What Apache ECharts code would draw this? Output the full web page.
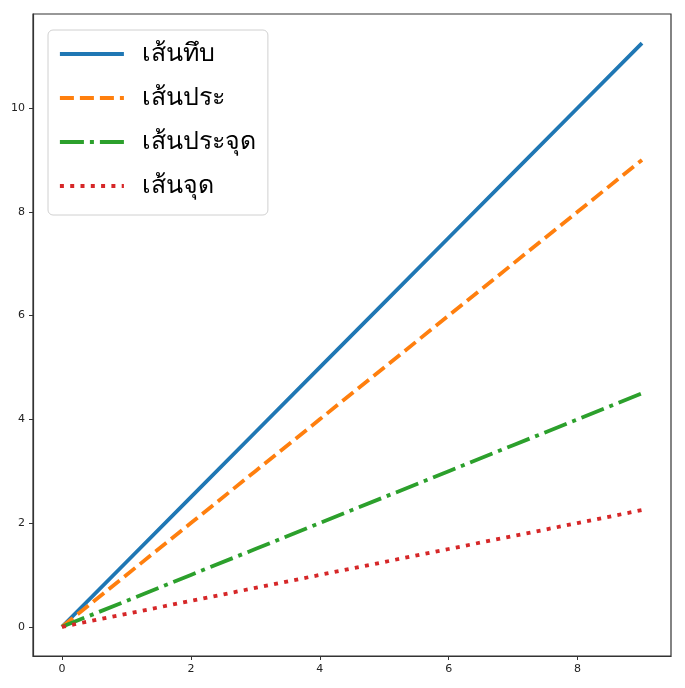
<!DOCTYPE html>
<html>
<head>
<meta charset="utf-8">
<script src="https://cdn.jsdelivr.net/npm/echarts@6/dist/echarts.min.js"></script>
<style>html,body{margin:0;padding:0;background:#fff}#c{width:685px;height:688px}</style>
</head>
<body>
<div id="c"></div>
<script>
const xs = [0, 1, 2, 3, 4, 5, 6, 7, 8, 9];
const solidVals = [0, 1.25, 2.5, 3.75, 5, 6.25, 7.5, 8.75, 10, 11.25];
const dashedVals = [0, 1, 2, 3, 4, 5, 6, 7, 8, 9];
const dashDotVals = [0, 0.5, 1, 1.5, 2, 2.5, 3, 3.5, 4, 4.5];
const dottedVals = [0, 0.25, 0.5, 0.75, 1, 1.25, 1.5, 1.75, 2, 2.25];
const names = ['เส้นทึบ', 'เส้นประ', 'เส้นประจุด', 'เส้นจุด'];
const xTicks = [0, 2, 4, 6, 8];
const yTicks = [0, 2, 4, 6, 8, 10];

const colors = ['#1f77b4', '#ff7f0e', '#2ca02c', '#d62728'];
const lw = 3.8;
const dashTypes = ['solid', [14, 6], [24, 6, 4, 6], [4, 6.3]];
const valsList = [solidVals, dashedVals, dashDotVals, dottedVals];

const chart = echarts.init(document.getElementById('c'), null, {renderer: 'canvas'});
const axisCommon = {
  axisLine: {show: true, onZero: false, lineStyle: {color: '#333', width: 1.2}},
  splitLine: {show: false},
  axisLabel: {color: '#222', fontSize: 11, fontFamily: 'DejaVu Sans'},
  axisTick: {show: true, length: 4, lineStyle: {color: '#333'}}
};
chart.setOption({
  animation: false,
  grid: {left: 33, right: 14, top: 14, bottom: 32, show: true, borderColor: '#333', borderWidth: 1.2, containLabel: false},
  xAxis: Object.assign({}, axisCommon, {
    type: 'value', min: -0.45, max: 9.45,
    axisLabel: Object.assign({}, axisCommon.axisLabel, {customValues: xTicks, margin: 8}),
    axisTick: Object.assign({}, axisCommon.axisTick, {customValues: xTicks})
  }),
  yAxis: Object.assign({}, axisCommon, {
    type: 'value', min: -0.5625, max: 11.8125,
    axisLabel: Object.assign({}, axisCommon.axisLabel, {customValues: yTicks, margin: 8}),
    axisTick: Object.assign({}, axisCommon.axisTick, {customValues: yTicks})
  }),
  legend: {
    orient: 'vertical', left: 48, top: 30,
    data: names.map((n, i) => ({
      name: n,
      itemStyle: {opacity: 0},
      lineStyle: {width: lw, type: dashTypes[i], color: colors[i], cap: 'butt'}
    })),
    itemWidth: 64, itemHeight: 14, itemGap: 14,
    padding: [9, 12, 14, 10],
    itemStyle: {opacity: 0},
    lineStyle: {width: lw},
    backgroundColor: '#fff', borderColor: '#d0d0d0', borderWidth: 1, borderRadius: 5,
    textStyle: {fontSize: 25, lineHeight: 30, color: '#000', fontFamily: 'Noto Sans', padding: [0, 0, 0, 13]}
  },
  series: valsList.map((vals, i) => ({
    name: names[i], type: 'line', symbol: 'none', showSymbol: false,
    data: xs.map((x, j) => [x, vals[j]]),
    color: colors[i],
    lineStyle: {color: colors[i], width: lw, type: dashTypes[i], cap: 'butt'},
    z: 3
  }))
});
</script>
</body>
</html>
